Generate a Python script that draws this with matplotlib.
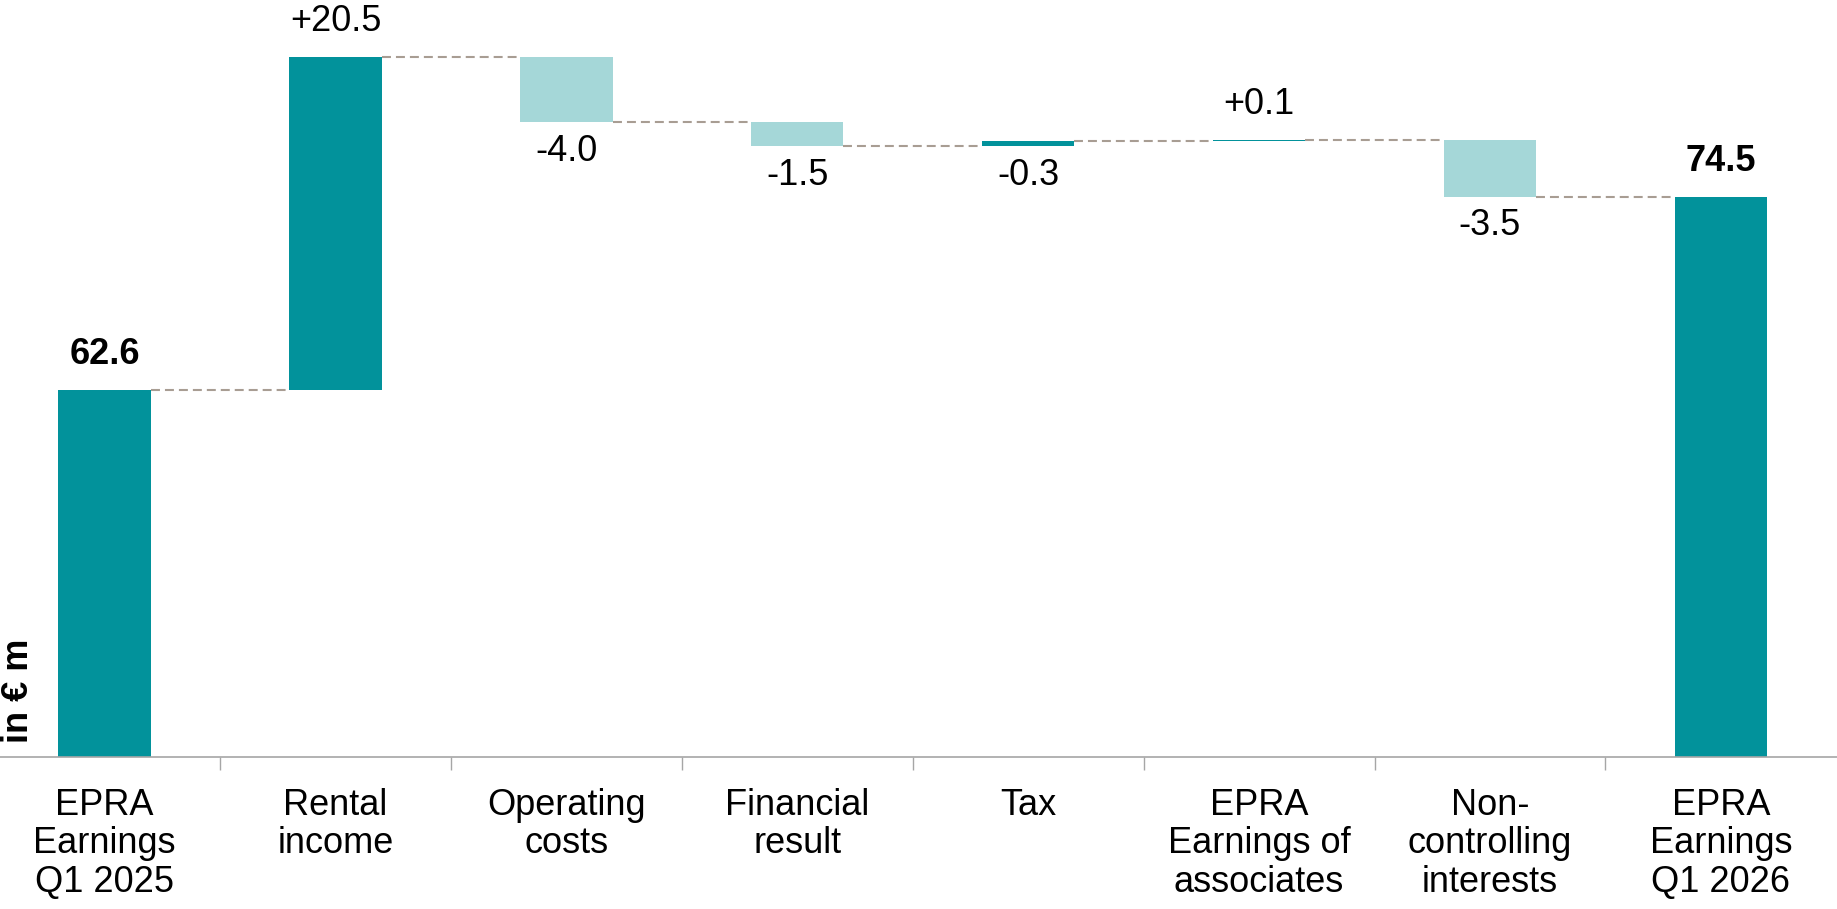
import numpy as np
import matplotlib
matplotlib.use("Agg")
import matplotlib.pyplot as plt

plt.rcParams['font.family'] = ['Liberation Sans', 'DejaVu Sans']

categories = ["EPRA\nEarnings\nQ1 2025", "Rental\nincome", "Operating\ncosts", "Financial\nresult",
              "Tax", "EPRA\nEarnings of\nassociates", "Non-\ncontrolling\ninterests", "EPRA\nEarnings\nQ1 2026"]
start_value = 62.6
end_value = 74.5
# bar movements as drawn (the tax bar moves up although it is labelled -0.3)
deltas = [20.5, -4.0, -1.5, 0.3, 0.1, -3.5]
delta_labels = ["+20.5", "-4.0", "-1.5", "-0.3", "+0.1", "-3.5"]

dark = "#02929B"
light = "#A5D7D8"
conn_color = "#A89D93"
fs = 26

fig = plt.figure(figsize=(18.37, 9.09), dpi=100)
ax = fig.add_axes([0, 0.1672, 1, 0.8328])

x = np.arange(len(categories))
w = 0.4

# cumulative levels
levels = start_value + np.cumsum(deltas)
prev = np.concatenate([[start_value], levels[:-1]])

# totals
ax.bar([x[0], x[-1]], [start_value, end_value], width=w, color=dark, zorder=2)
# movements
bottoms = np.minimum(prev, levels)
heights = np.abs(deltas)
colors = [dark if d > 0 else light for d in deltas]
ax.bar(x[1:-1], heights, bottom=bottoms, width=w, color=colors, zorder=2)

# connectors
steps = np.concatenate([[start_value], levels])
for i, lv in enumerate(steps):
    ax.plot([x[i] + w / 2, x[i + 1] - w / 2], [lv, lv], color=conn_color, lw=1.5,
            dashes=(4.3, 2.4), zorder=1)

# labels
for xi, v in [(x[0], start_value), (x[-1], end_value)]:
    ax.annotate(f"{v:.1f}", (xi, v), xytext=(0, 18.5), textcoords="offset points",
                ha="center", va="baseline", fontsize=fs, fontweight="bold", annotation_clip=False)
for i, lab in enumerate(delta_labels):
    top = max(prev[i], levels[i])
    bot = min(prev[i], levels[i])
    if lab.startswith("-"):
        ax.annotate(lab, (x[i + 1], bot), xytext=(0, -28), textcoords="offset points",
                    ha="center", va="baseline", fontsize=fs, annotation_clip=False)
    else:
        ax.annotate(lab, (x[i + 1], top), xytext=(0, 18.5), textcoords="offset points",
                    ha="center", va="baseline", fontsize=fs, annotation_clip=False)

ax.set_xlim(-0.453, 7.503)
ax.set_ylim(40, 86.6)

for s in ["top", "right", "left"]:
    ax.spines[s].set_visible(False)
ax.spines["bottom"].set_color("#A6A6A6")
ax.spines["bottom"].set_linewidth(1.2)
ax.set_yticks([])

ax.set_xticks(x)
ax.set_xticklabels(categories, fontsize=fs, linespacing=1.13)
ax.tick_params(axis="x", which="major", length=0, pad=22)
ax.set_xticks(x[:-1] + 0.5, minor=True)
ax.tick_params(axis="x", which="minor", length=9, width=1, color="#A6A6A6", direction="out")

fig.text(19 / 1837, (909 - 743) / 909, "in € m", rotation=90, ha="center", va="bottom",
         fontsize=fs, fontweight="bold")

fig.savefig("out.png", dpi=100)
